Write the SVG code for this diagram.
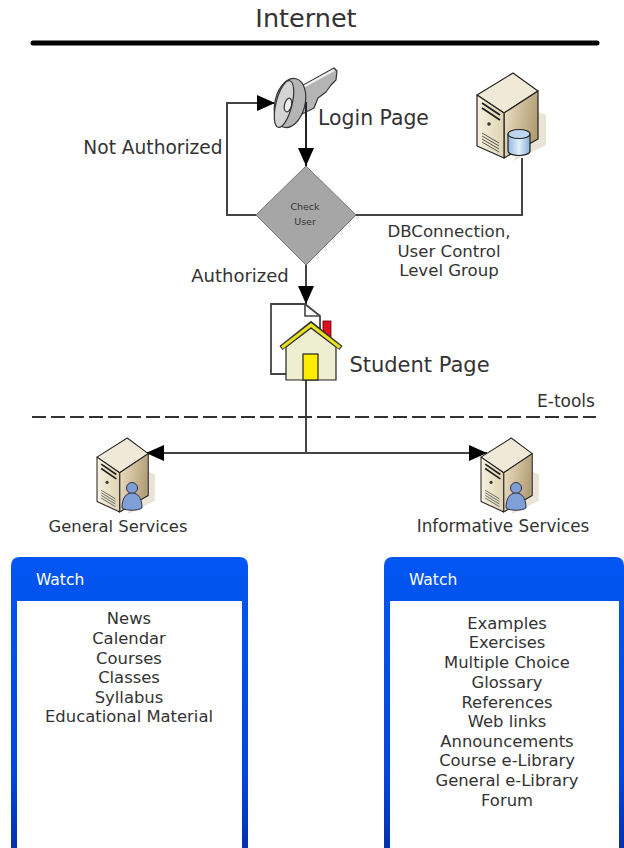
<svg xmlns="http://www.w3.org/2000/svg" width="624" height="848" viewBox="0 0 624 848">
<style>
text{font-family:"DejaVu Sans","Liberation Sans",sans-serif;fill:#333;text-anchor:middle}
.it{font-size:16.4px}
.ln{fill:none;stroke:#444;stroke-width:2}
.wt{font-size:15.5px;fill:#fff;text-anchor:start;font-weight:500}
.svline{stroke:#222;stroke-width:1.2;stroke-linejoin:round}
</style>
<defs>
<marker id="ah" markerUnits="userSpaceOnUse" markerWidth="20" markerHeight="18" refX="18" refY="8" orient="auto"><path d="M0 0L18 8L0 16Z" fill="#000"/></marker>
<linearGradient id="sr" x1="0" x2="1" y1="0" y2="0.3"><stop offset="0" stop-color="#efe3c6"/><stop offset="1" stop-color="#b39e76"/></linearGradient>
<linearGradient id="sl" x1="0" x2="1" y1="0" y2="0"><stop offset="0" stop-color="#f6f0dd"/><stop offset="1" stop-color="#dfd3b2"/></linearGradient>
<linearGradient id="bl" x1="0" x2="0" y1="0" y2="1"><stop offset="0" stop-color="#0356f2"/><stop offset="0.75" stop-color="#0346dc"/><stop offset="1" stop-color="#0330b0"/></linearGradient>
<linearGradient id="cyl" x1="0" x2="1" y1="0" y2="0"><stop offset="0" stop-color="#8fb8de"/><stop offset="0.5" stop-color="#e3f0fa"/><stop offset="1" stop-color="#86aed6"/></linearGradient>
<g id="tower">
<path d="M60 38L69 42V72L36 88Z" fill="#e0d8c4" opacity="0.7"/>
<path d="M0 22L36 0L61 18L27 40Z" fill="#f0e9d8" class="svline"/>
<path d="M27 40L61 18V66L27 85Z" fill="url(#sr)" class="svline"/>
<path d="M0 22L27 40V85L0 73Z" fill="url(#sl)" class="svline"/>
<path d="M5 30L23 42M5 35L23 47" stroke="#222" stroke-width="2" fill="none"/>
<circle cx="12" cy="51" r="1.8" fill="#333"/>
<path d="M5 60L22 70M5 63L22 73M5 66L22 76M5 69L22 79" stroke="#555" stroke-width="1" fill="none"/>
</g>
<g id="person">
<circle cx="0" cy="-10" r="5.5" fill="#7f9fd6" stroke="#334" stroke-width="1"/>
<path d="M-10 10C-10 0-6-5 0-5C6-5 10 0 10 10C6 13-6 13-10 10Z" fill="#7f9fd6" stroke="#334" stroke-width="1"/>
</g>
</defs>

<g id="connectors">
<path class="ln" d="M306 100V166" marker-end="url(#ah)" style="stroke:#222"/>
<path class="ln" d="M256 215H227V103H275" marker-end="url(#ah)"/>
<path class="ln" d="M356 215H522V158"/>
<path class="ln" d="M306 265V304" marker-end="url(#ah)"/>
<path class="ln" d="M306 380V453"/>
<path class="ln" d="M306 453H146" marker-end="url(#ah)"/>
<path class="ln" d="M306 453H487" marker-end="url(#ah)"/>
<path d="M32 417H596" fill="none" stroke="#333" stroke-width="2" stroke-dasharray="14 5"/>
</g>

<g id="internet">
<text x="306" y="27" style="font-size:25.5px">Internet</text>
<path d="M33 43H597" stroke="#000" stroke-width="5" stroke-linecap="round"/>
</g>

<g id="login-key">
<path d="M298 88L334 68L337 71L336 80L331 85L326 92L318 98L314 108L298 116Z" fill="#b4b4b4" stroke="#333" stroke-width="1.2" stroke-linejoin="round"/>
<path d="M303 87L334 70" stroke="#eee" stroke-width="2.500"/>
<path d="M306 102V114" stroke="#222" stroke-width="2"/>
<ellipse cx="290" cy="103" rx="15" ry="25" transform="rotate(14 290 103)" fill="#b4b4b4" stroke="#333" stroke-width="1.2"/>
<ellipse cx="284" cy="104" rx="8" ry="24" transform="rotate(14 284 104)" fill="#d4d4d4" stroke="#333" stroke-width="1.2"/>
<ellipse cx="288" cy="105" rx="3.5" ry="7" transform="rotate(14 288 105)" fill="#eee" stroke="#333" stroke-width="1.2"/>
<text x="373.500" y="125" style="font-size:20.4px">Login Page</text>
</g>

<g id="not-authorized"><text x="153" y="154" style="font-size:18.6px">Not Authorized</text></g>

<g id="check-user">
<path d="M306 166L356 215L306 265L256 215Z" fill="#a6a6a6" stroke="#777" stroke-width="1"/>
<text x="305" y="210" style="font-size:9.5px">Check</text>
<text x="305" y="225" style="font-size:9.5px">User</text>
</g>

<g id="db-server">
<use href="#tower" transform="translate(477 73)"/>
<path d="M508 134V151C508 157 530 157 530 151V134Z" fill="url(#cyl)" stroke="#222" stroke-width="1.2"/>
<ellipse cx="519" cy="134" rx="11" ry="4.5" fill="#bcd6ee" stroke="#222" stroke-width="1.2"/>
<text x="449" y="237" class="it" style="font-size:16.6px">DBConnection,</text>
<text x="449" y="257" class="it" style="font-size:16.6px">User Control</text>
<text x="449" y="276" class="it" style="font-size:16.6px">Level Group</text>
</g>

<g id="authorized"><text x="240" y="282" style="font-size:18px">Authorized</text></g>

<g id="student-page">
<path d="M286 374H271V304H305L320 316V340" fill="#fff" stroke="#444" stroke-width="1.8"/>
<path d="M305 304V316H320" fill="none" stroke="#444" stroke-width="1.6"/>
<rect x="323" y="321" width="8" height="20" fill="#e01020" stroke="#500" stroke-width="0.8"/>
<path d="M286 347L311 328L336 347V380H286Z" fill="#eeeed0" stroke="#222" stroke-width="1.2"/>
<path d="M281 348L311 324L341 348" fill="none" stroke="#333" stroke-width="5" stroke-linejoin="miter"/>
<path d="M282 347.500L311 325L340 347.500" fill="none" stroke="#e8e020" stroke-width="3"/>
<rect x="303" y="354" width="15" height="26" fill="#ffec00" stroke="#222" stroke-width="1.2"/>
<text x="419.500" y="372" style="font-size:21px">Student Page</text>
</g>

<g id="e-tools"><text x="566" y="407" style="font-size:17px">E-tools</text></g>

<g id="general-services">
<use href="#tower" transform="translate(97 438) scale(.84 .87)"/>
<use href="#person" transform="translate(132 498)"/>
<text x="118" y="532" class="it">General Services</text>
</g>

<g id="informative-services">
<use href="#tower" transform="translate(481 438) scale(.84 .87)"/>
<use href="#person" transform="translate(516 498)"/>
<text x="503" y="532" style="font-size:16.8px">Informative Services</text>
</g>

<g id="watch-left">
<path d="M11 848V566Q11 557 20 557H239Q248 557 248 566V848Z" fill="url(#bl)"/>
<rect x="17" y="601" width="225" height="247" fill="#fff"/>
<text x="36" y="585" class="wt">Watch</text>
<text x="129" y="624" class="it">News</text>
<text x="129" y="644" class="it">Calendar</text>
<text x="129" y="664" class="it">Courses</text>
<text x="129" y="683" class="it">Classes</text>
<text x="129" y="703" class="it">Syllabus</text>
<text x="129" y="722" class="it">Educational Material</text>
</g>

<g id="watch-right">
<path d="M384 848V566Q384 557 393 557H615Q624 557 624 566V848Z" fill="url(#bl)"/>
<rect x="390" y="601" width="229" height="247" fill="#fff"/>
<text x="409" y="585" class="wt">Watch</text>
<text x="507" y="629" class="it">Examples</text>
<text x="507" y="648" class="it">Exercises</text>
<text x="507" y="668" class="it">Multiple Choice</text>
<text x="507" y="688" class="it">Glossary</text>
<text x="507" y="708" class="it">References</text>
<text x="507" y="727" class="it">Web links</text>
<text x="507" y="747" class="it">Announcements</text>
<text x="507" y="766" class="it">Course e-Library</text>
<text x="507" y="786" class="it">General e-Library</text>
<text x="507" y="806" class="it">Forum</text>
</g>
</svg>
